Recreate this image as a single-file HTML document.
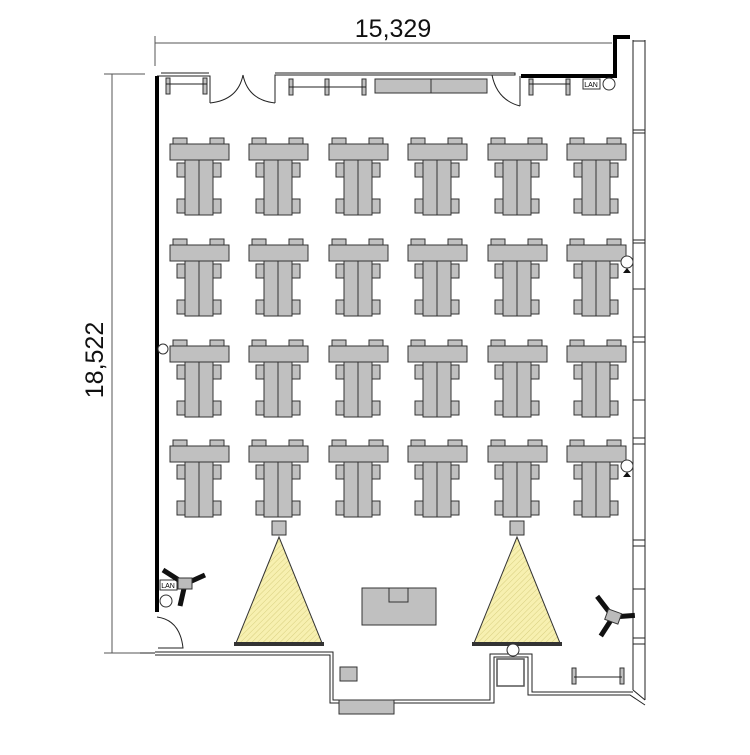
<!DOCTYPE html>
<html><head><meta charset="utf-8"><style>html,body{margin:0;padding:0;background:#fff}</style></head>
<body>
<svg width="750" height="750" viewBox="0 0 750 750" xmlns="http://www.w3.org/2000/svg" font-family="Liberation Sans, sans-serif">
<defs>
<g id="cl" stroke="#333" stroke-width="1" fill="#c0c0c0">
<rect x="3" y="-6" width="14" height="6"/><rect x="40" y="-6" width="14" height="6"/>
<rect x="7" y="19" width="8" height="14"/><rect x="7" y="55" width="8" height="14"/>
<rect x="43" y="19" width="8" height="14"/><rect x="43" y="55" width="8" height="14"/>
<rect x="15" y="15" width="14" height="56"/><rect x="29" y="15" width="14" height="56"/>
<rect x="0" y="0" width="59" height="16"/>
</g>
<pattern id="hat" width="4" height="4" patternUnits="userSpaceOnUse" patternTransform="rotate(45)">
<rect width="4" height="4" fill="#f7f0b0"/><line x1="0" y1="0" x2="0" y2="4" stroke="#d8cf80" stroke-width="1"/></pattern>
<g id="fan" stroke="#111" stroke-width="5" stroke-linecap="butt">
<line x1="0" y1="0" x2="-22" y2="-14"/><line x1="0" y1="0" x2="20" y2="-9"/><line x1="0" y1="0" x2="-5" y2="22"/>
<rect x="-7" y="-6" width="14" height="11" fill="#bbb" stroke="#333" stroke-width="1"/>
</g>
</defs>
<!-- dimensions -->
<g stroke="#555" stroke-width="1" fill="none">
<line x1="155" y1="43" x2="612" y2="43"/><line x1="155" y1="36" x2="155" y2="66"/>
<line x1="112" y1="74" x2="112" y2="653"/><line x1="104" y1="74" x2="145" y2="74"/><line x1="104" y1="653" x2="145" y2="653"/>
</g>
<text x="393" y="37" font-size="25" text-anchor="middle" fill="#111">15,329</text>
<text transform="translate(103,360) rotate(-90)" font-size="25" text-anchor="middle" fill="#111">18,522</text>
<!-- walls -->
<g stroke="#222" stroke-width="1" fill="none">
<polyline points="157,76 210,76 210,103"/><polyline points="161,73 209,73"/>
<polyline points="275,103 275,75 515,75 515,73 275,73"/>
<path d="M210,103 Q238,100 243,75"/><path d="M275,103 Q248,100 243,75"/>
<polyline points="520,106 520,76"/><path d="M520,106 Q497,100 492,75"/>
<line x1="633" y1="40" x2="633" y2="690"/><line x1="645" y1="40" x2="645" y2="700"/>
<line x1="633" y1="41" x2="645" y2="41"/>
<line x1="633" y1="130" x2="645" y2="130"/><line x1="633" y1="133" x2="645" y2="133"/>
<line x1="633" y1="240" x2="645" y2="240"/><line x1="633" y1="243" x2="645" y2="243"/>
<line x1="633" y1="289" x2="645" y2="289"/>
<line x1="633" y1="337" x2="645" y2="337"/><line x1="633" y1="342" x2="645" y2="342"/>
<line x1="633" y1="400" x2="645" y2="400"/>
<line x1="633" y1="438" x2="645" y2="438"/><line x1="633" y1="444" x2="645" y2="444"/>
<line x1="633" y1="540" x2="645" y2="540"/><line x1="633" y1="546" x2="645" y2="546"/>
<line x1="633" y1="589" x2="645" y2="589"/>
<line x1="633" y1="638" x2="645" y2="638"/><line x1="633" y1="644" x2="645" y2="644"/>
<polyline points="155,652 333,652 333,700 490,700 490,654 532,654 532,692 633,692"/>
<polyline points="155,655 330,655 330,703 494,703 494,657 528,657 528,695 630,695 645,705"/>
<line x1="633" y1="690" x2="645" y2="700"/>
<path d="M157,617 Q180,620 183,648 L158,648"/>
<line x1="140" y1="653" x2="155" y2="653"/>
</g>
<line x1="157" y1="76" x2="157" y2="612" stroke="#000" stroke-width="4"/>
<polyline points="521,76 615,76 615,37 630,37" stroke="#000" stroke-width="4" fill="none"/>
<!-- top benches -->
<g stroke="#333" fill="#c0c0c0">
<rect x="375" y="79" width="112" height="14"/><line x1="431" y1="79" x2="431" y2="93"/>
<rect x="166" y="78" width="4" height="16"/><rect x="203" y="78" width="4" height="16"/>
<rect x="289" y="79" width="4" height="16"/><rect x="325" y="79" width="4" height="16"/><rect x="362" y="79" width="4" height="16"/>
<rect x="529" y="79" width="4" height="16"/><rect x="566" y="79" width="4" height="16"/>
</g>
<g stroke="#222" fill="none">
<line x1="166" y1="84" x2="207" y2="84"/><line x1="289" y1="87" x2="366" y2="87"/><line x1="529" y1="84" x2="570" y2="84"/>
</g>
<rect x="583" y="79" width="17" height="10" fill="#fff" stroke="#333"/><text x="591" y="87" font-size="7" text-anchor="middle">LAN</text>
<circle cx="609" cy="84" r="6" fill="#fff" stroke="#333"/>
<!-- clusters -->
<g>
<use href="#cl" x="170" y="144"/><use href="#cl" x="249" y="144"/><use href="#cl" x="329" y="144"/><use href="#cl" x="408" y="144"/><use href="#cl" x="488" y="144"/><use href="#cl" x="567" y="144"/>
<use href="#cl" x="170" y="245"/><use href="#cl" x="249" y="245"/><use href="#cl" x="329" y="245"/><use href="#cl" x="408" y="245"/><use href="#cl" x="488" y="245"/><use href="#cl" x="567" y="245"/>
<use href="#cl" x="170" y="346"/><use href="#cl" x="249" y="346"/><use href="#cl" x="329" y="346"/><use href="#cl" x="408" y="346"/><use href="#cl" x="488" y="346"/><use href="#cl" x="567" y="346"/>
<use href="#cl" x="170" y="446"/><use href="#cl" x="249" y="446"/><use href="#cl" x="329" y="446"/><use href="#cl" x="408" y="446"/><use href="#cl" x="488" y="446"/><use href="#cl" x="567" y="446"/>
</g>
<g fill="#fff" stroke="#333"><circle cx="627" cy="262" r="6"/><circle cx="627" cy="466" r="6"/><circle cx="163" cy="349" r="5"/></g>
<g fill="#111"><polygon points="627,268 623,273 631,273"/><polygon points="627,472 623,477 631,477"/></g>
<!-- projectors -->
<g stroke="#333" fill="#c0c0c0"><rect x="272" y="521" width="14" height="14"/><rect x="510" y="521" width="14" height="14"/>
<rect x="362" y="588" width="74" height="37"/><rect x="389" y="588" width="19" height="14"/>
<rect x="340" y="667" width="17" height="14"/><rect x="339" y="700" width="55" height="14"/>
<rect x="572" y="668" width="4" height="16"/><rect x="620" y="668" width="4" height="16"/></g>
<line x1="574" y1="677" x2="622" y2="677" stroke="#222"/>
<rect x="497" y="659" width="27" height="27" fill="#fff" stroke="#555" stroke-width="1.5"/>
<polygon points="279,537 236,643 322,643" fill="url(#hat)" stroke="#333"/>
<polygon points="517,537 474,643 560,643" fill="url(#hat)" stroke="#333"/>
<rect x="234" y="642" width="90" height="4" fill="#333"/><rect x="472" y="642" width="90" height="4" fill="#333"/>
<circle cx="513" cy="650" r="6" fill="#fff" stroke="#333"/>
<!-- left lan -->
<rect x="160" y="580" width="17" height="10" fill="#fff" stroke="#333"/><text x="168" y="588" font-size="7" text-anchor="middle">LAN</text>
<circle cx="166" cy="601" r="6" fill="#fff" stroke="#333"/>
<use href="#fan" x="185" y="584"/>
<use href="#fan" x="613" y="617" transform="rotate(20 613 617)"/>
</svg>
</body></html>
